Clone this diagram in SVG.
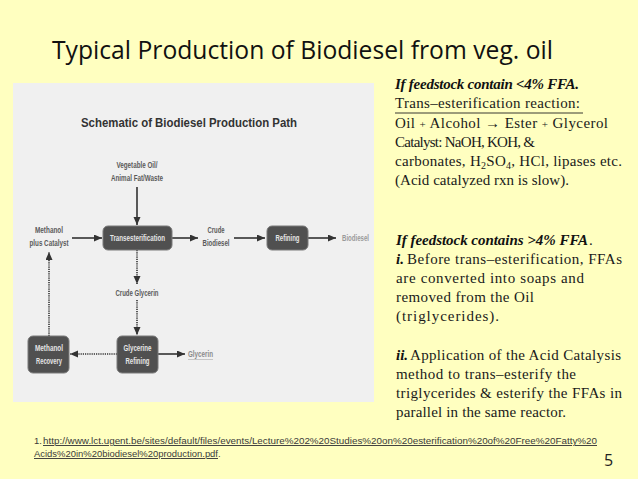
<svg xmlns="http://www.w3.org/2000/svg" width="638" height="479" viewBox="0 0 638 479">
<defs>
<style>
.lbl{font-family:"Liberation Sans",Arial,sans-serif;font-size:9px;font-weight:bold;fill:#5a5a5a;text-anchor:middle}
.blbl{font-family:"Liberation Sans",Arial,sans-serif;font-size:9px;font-weight:bold;fill:#e6e6e6;text-anchor:middle}
.box{fill:#505050;stroke:#7a7a7a;stroke-width:1}
.solid{stroke:#333;stroke-width:1.6;fill:none}
.dot{stroke:#333;stroke-width:1.6;fill:none;stroke-dasharray:1.2 1}
.rt{font-family:"Liberation Serif","Times New Roman",serif;font-size:15px;fill:#1a1a1a}
.rb{font-family:"Liberation Serif","Times New Roman",serif;font-size:15px;fill:#111;font-weight:bold;font-style:italic}
.fn{font-family:"Liberation Sans",Arial,sans-serif;font-size:9.5px;fill:#3a3a3a}
</style>
<marker id="ah" markerUnits="userSpaceOnUse" markerWidth="9" markerHeight="8" refX="8" refY="3.5" orient="auto">
<path d="M0,0 L8,3.5 L0,7 z" fill="#333"/>
</marker>
</defs>
<rect width="638" height="479" fill="#FFFFC0"/>
<text x="52" y="59" font-family="'Open Sans','Noto Sans',sans-serif" font-size="26" fill="#111" textLength="501" lengthAdjust="spacingAndGlyphs">Typical Production of Biodiesel from veg. oil</text>

<g id="panel">
<rect x="13" y="83" width="361" height="319" fill="#F0F0F0"/>
<text x="189" y="127" font-family="'Liberation Sans',Arial,sans-serif" font-size="12" font-weight="bold" fill="#333" text-anchor="middle" textLength="216" lengthAdjust="spacingAndGlyphs">Schematic of Biodiesel Production Path</text>
</g>

<g id="connectors">
<line class="solid" x1="137" y1="187" x2="137" y2="225" marker-end="url(#ah)"/>
<line class="solid" x1="72" y1="238" x2="102" y2="238" marker-end="url(#ah)"/>
<line class="solid" x1="172" y1="238" x2="198" y2="238" marker-end="url(#ah)"/>
<line class="solid" x1="234" y1="238" x2="265" y2="238" marker-end="url(#ah)"/>
<line class="solid" x1="308" y1="238" x2="336" y2="238" marker-end="url(#ah)"/>
<line class="dot" x1="137" y1="250" x2="137" y2="284" marker-end="url(#ah)"/>
<line class="dot" x1="137" y1="300" x2="137" y2="335" marker-end="url(#ah)"/>
<line class="solid" x1="158" y1="354" x2="185" y2="354" marker-end="url(#ah)"/>
<line class="dot" x1="117" y1="354" x2="70" y2="354" marker-end="url(#ah)"/>
<line class="dot" x1="49" y1="336" x2="49" y2="252" marker-end="url(#ah)"/>
</g>

<g id="veg-oil">
<text class="lbl" x="137" y="168" textLength="41" lengthAdjust="spacingAndGlyphs">Vegetable Oil/</text>
<text class="lbl" x="137" y="181" textLength="52" lengthAdjust="spacingAndGlyphs">Animal Fat/Waste</text>
</g>
<g id="methanol-catalyst">
<text class="lbl" x="49" y="233" textLength="28" lengthAdjust="spacingAndGlyphs">Methanol</text>
<text class="lbl" x="49" y="246" textLength="39" lengthAdjust="spacingAndGlyphs">plus Catalyst</text>
</g>
<g id="transesterification">
<rect class="box" x="103" y="226" width="69" height="24" rx="5"/>
<text class="blbl" x="137.5" y="241" textLength="55" lengthAdjust="spacingAndGlyphs">Transesterification</text>
</g>
<g id="crude-biodiesel">
<text class="lbl" x="216" y="233" textLength="17" lengthAdjust="spacingAndGlyphs">Crude</text>
<text class="lbl" x="216" y="246" textLength="27" lengthAdjust="spacingAndGlyphs">Biodiesel</text>
</g>
<g id="refining">
<rect class="box" x="267" y="226" width="41" height="24" rx="5"/>
<text class="blbl" x="287.5" y="241" textLength="24" lengthAdjust="spacingAndGlyphs">Refining</text>
</g>
<g id="biodiesel">
<text class="lbl" x="342" y="241" style="text-anchor:start;fill:#9a9a9a" textLength="27" lengthAdjust="spacingAndGlyphs">Biodiesel</text>
</g>
<g id="crude-glycerin">
<text class="lbl" x="137" y="296" textLength="43" lengthAdjust="spacingAndGlyphs">Crude Glycerin</text>
</g>
<g id="glycerine-refining">
<rect class="box" x="117" y="336" width="41" height="37" rx="5"/>
<text class="blbl" x="137.5" y="351" textLength="28" lengthAdjust="spacingAndGlyphs">Glycerine</text>
<text class="blbl" x="137.5" y="364" textLength="24" lengthAdjust="spacingAndGlyphs">Refining</text>
</g>
<g id="methanol-recovery">
<rect class="box" x="28" y="336" width="41" height="37" rx="5"/>
<text class="blbl" x="49" y="351" textLength="28" lengthAdjust="spacingAndGlyphs">Methanol</text>
<text class="blbl" x="49" y="364" textLength="26" lengthAdjust="spacingAndGlyphs">Recovery</text>
</g>
<g id="glycerin">
<text class="lbl" x="188" y="357" style="text-anchor:start;fill:#8a8a8a" textLength="25" lengthAdjust="spacingAndGlyphs">Glycerin</text>
<line x1="188" y1="359.5" x2="213" y2="359.5" stroke="#bbb" stroke-width="0.8"/>
</g>

<g id="notes">
<text class="rb" x="395" y="89" textLength="184" lengthAdjust="spacing">If  feedstock contain &lt;4% FFA.</text>
<text class="rt" x="395" y="108" textLength="185" lengthAdjust="spacing">Trans–esterification reaction:</text>
<line x1="395" y1="113" x2="583" y2="113" stroke="#222" stroke-width="0.9"/>
<text class="rt" x="395" y="128" textLength="213" lengthAdjust="spacing">Oil  <tspan font-size="11">+</tspan> Alcohol <tspan font-weight="bold">→</tspan> Ester <tspan font-size="11">+</tspan> Glycerol</text>
<text class="rt" x="395" y="147" textLength="140" lengthAdjust="spacing">Catalyst: NaOH, KOH, &amp;</text>
<text class="rt" x="395" y="166" textLength="227" lengthAdjust="spacing">carbonates, H<tspan font-size="10" dy="3">2</tspan><tspan dy="-3">SO</tspan><tspan font-size="10" dy="3">4</tspan><tspan dy="-3">, HCl, lipases etc.</tspan></text>
<text class="rt" x="395" y="185" textLength="174" lengthAdjust="spacing">(Acid catalyzed rxn is slow).</text>

<text class="rb" x="396" y="245" textLength="192" lengthAdjust="spacing">If feedstock contains &gt;4% FFA</text>
<text class="rt" x="589" y="245" font-size="11">.</text>
<text class="rb" x="396" y="264">i.</text>
<text class="rt" x="407" y="264" textLength="215" lengthAdjust="spacing">Before trans–esterification, FFAs</text>
<text class="rt" x="396" y="283" textLength="188" lengthAdjust="spacing">are converted into  soaps and</text>
<text class="rt" x="396" y="302" textLength="138" lengthAdjust="spacing">removed from the Oil</text>
<text class="rt" x="396" y="321" textLength="103" lengthAdjust="spacing">(triglycerides).</text>
<text class="rb" x="396" y="360">ii.</text>
<text class="rt" x="410" y="360" textLength="211" lengthAdjust="spacing">Application of the Acid Catalysis</text>
<text class="rt" x="396" y="379" textLength="180" lengthAdjust="spacing">method to trans–esterify the</text>
<text class="rt" x="396" y="398" textLength="226" lengthAdjust="spacing">triglycerides &amp; esterify the FFAs in</text>
<text class="rt" x="396" y="417" textLength="170" lengthAdjust="spacing">parallel in the same reactor.</text>
</g>

<g id="footnote">
<text class="fn" x="34" y="444">1.</text>
<text class="fn" x="43" y="444" text-decoration="underline" textLength="554" lengthAdjust="spacingAndGlyphs">http://www.lct.ugent.be/sites/default/files/events/Lecture%202%20Studies%20on%20esterification%20of%20Free%20Fatty%20</text>
<text class="fn" x="34" y="457" text-decoration="underline" textLength="184" lengthAdjust="spacingAndGlyphs">Acids%20in%20biodiesel%20production.pdf</text>
<text class="fn" x="218" y="457">.</text>
<text x="604" y="466" font-family="'Open Sans','Noto Sans',sans-serif" font-size="16" fill="#222">5</text>
</g>
</svg>
